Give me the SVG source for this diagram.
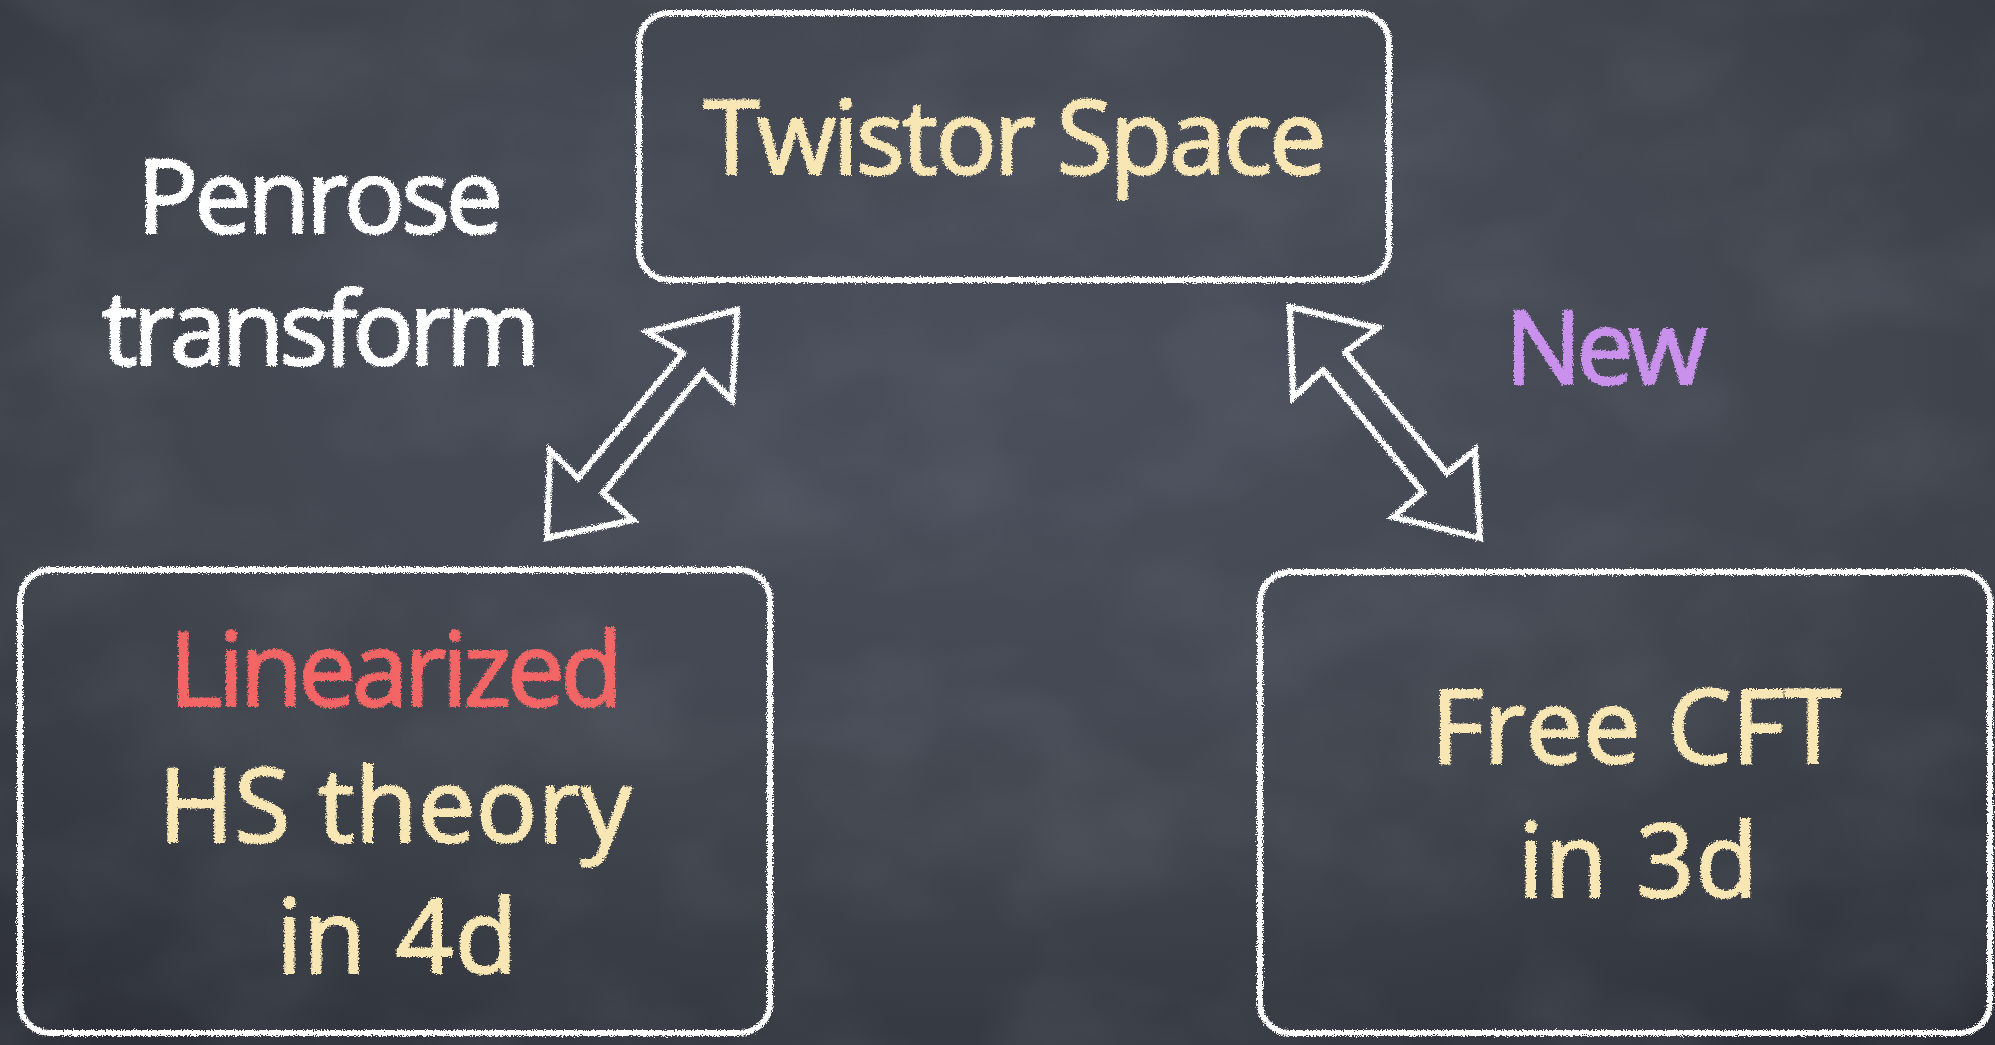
<svg xmlns="http://www.w3.org/2000/svg" width="1995" height="1045" viewBox="0 0 1995 1045">
  <defs>
    <radialGradient id="board" cx="0.5" cy="0.35" r="0.8">
      <stop offset="0" stop-color="#4a4f5c"/>
      <stop offset="0.55" stop-color="#42464f"/>
      <stop offset="1" stop-color="#2d3038"/>
    </radialGradient>
    <!-- soft clouding of the slate -->
    <filter id="grain" x="0" y="0" width="100%" height="100%">
      <feTurbulence type="fractalNoise" baseFrequency="0.006 0.009" numOctaves="3" seed="7" result="n"/>
      <feColorMatrix in="n" type="matrix" values="0 0 0 0 0.55  0 0 0 0 0.58  0 0 0 0 0.68  0 0 0 0.9 -0.35"/>
    </filter>
    <!-- rough chalk edge for strokes -->
    <filter id="chalk" x="-5%" y="-5%" width="110%" height="110%">
      <feTurbulence type="fractalNoise" baseFrequency="0.9" numOctaves="2" seed="3" result="n"/>
      <feDisplacementMap in="SourceGraphic" in2="n" scale="6" xChannelSelector="R" yChannelSelector="G"/>
    </filter>
    <!-- rough chalk edge for lettering -->
    <filter id="chalkText" x="-5%" y="-10%" width="110%" height="120%">
      <feTurbulence type="fractalNoise" baseFrequency="0.6" numOctaves="2" seed="11" result="n"/>
      <feDisplacementMap in="SourceGraphic" in2="n" scale="5" xChannelSelector="R" yChannelSelector="G"/>
    </filter>
    <style>
      .box { fill: none; stroke: #ffffff; stroke-width: 6; filter: url(#chalk); }
      .arrow { fill: none; stroke: #ffffff; stroke-width: 6; stroke-linejoin: miter; filter: url(#chalk); }
      .t { font-family: "Open Sans", "Liberation Sans", sans-serif; font-size: 102px; font-weight: 400; stroke-width: 2; text-anchor: middle; filter: url(#chalkText); }
      .cream { fill: #f8e7b4; stroke: #f8e7b4; }
      .white { fill: #ffffff; stroke: #ffffff; }
      .red { fill: #f46565; stroke: #f46565; }
      .violet { fill: #c991ec; stroke: #c991ec; }
    </style>
  </defs>

  <!-- chalkboard -->
  <rect width="1995" height="1045" fill="url(#board)"/>
  <rect width="1995" height="1045" filter="url(#grain)" opacity="0.18"/>

  <!-- side labels -->
  <g id="label-penrose">
    <text class="t white" x="320" y="233" textLength="366">Penrose</text>
    <text class="t white" x="321" y="365" textLength="439">transform</text>
  </g>
  <g id="label-new">
    <text class="t violet" x="1606" y="384" textLength="202">New</text>
  </g>

  <!-- nodes -->
  <g id="twistor-space">
    <rect class="box" x="639" y="13" width="750" height="267" rx="30"/>
    <text class="t cream" x="1015" y="174" textLength="623">Twistor Space</text>
  </g>

  <g id="hs-theory">
    <rect class="box" x="20" y="570" width="750" height="463" rx="30"/>
    <text class="t red" x="396" y="706" textLength="454">Linearized</text>
    <text class="t cream" x="395" y="842" textLength="473">HS theory</text>
    <text class="t cream" x="397" y="973" textLength="241">in 4d</text>
  </g>

  <g id="free-cft">
    <rect class="box" x="1260" y="572" width="730" height="461" rx="30"/>
    <text class="t cream" x="1636" y="763" textLength="410">Free CFT</text>
    <text class="t cream" x="1638" y="897" textLength="240">in 3d</text>
  </g>

  <!-- connectors: hollow double-headed arrows -->
  <g id="connectors">
    <polygon class="arrow" points="737,310 647,332 683,353 578,478 550,450 547,538 633,520 603,493 703,372 732,400"/>
    <polygon class="arrow" points="1290,307 1378,328 1345,352 1447,473 1475,450 1480,538 1393,517 1423,492 1323,370 1293,398"/>
  </g>
</svg>
